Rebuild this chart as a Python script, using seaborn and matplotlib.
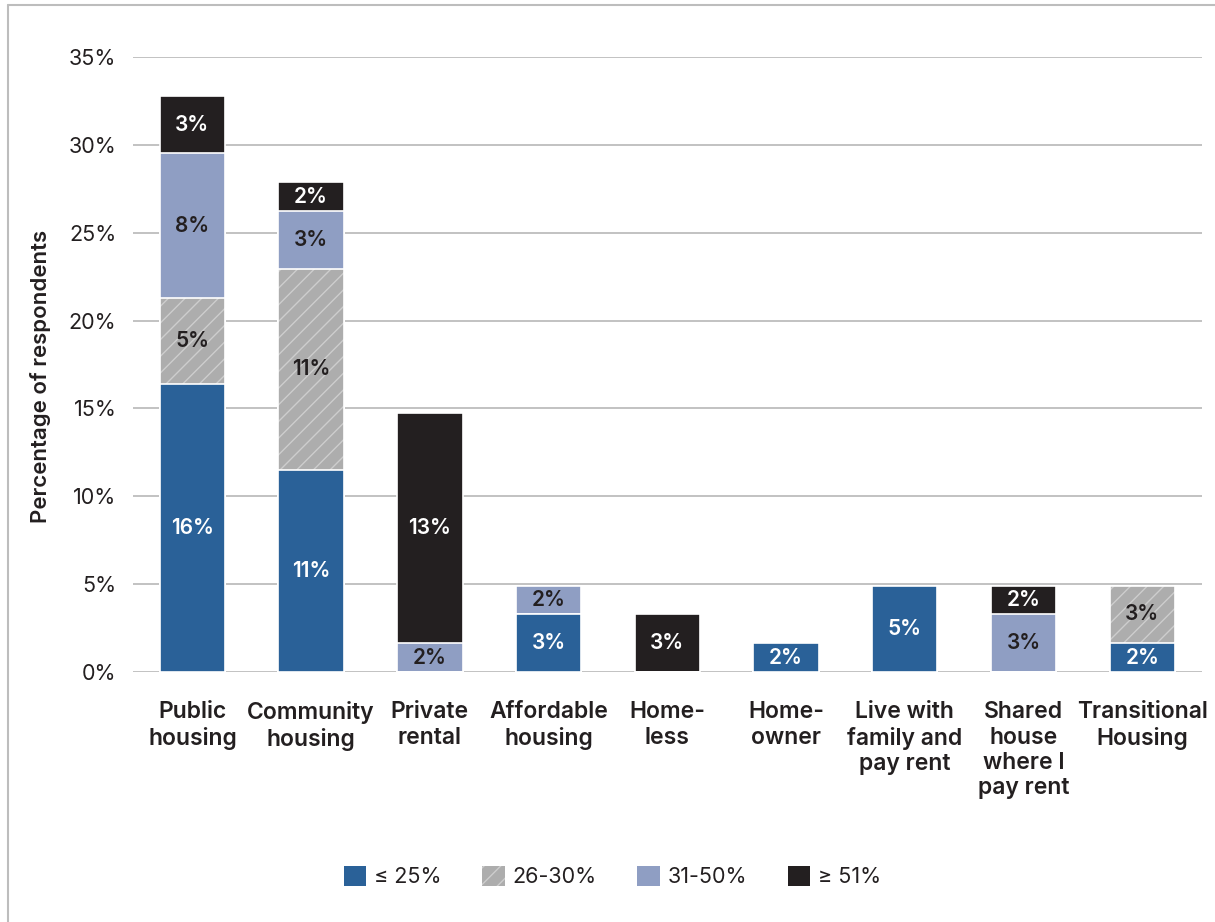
import matplotlib
matplotlib.use("Agg")
import matplotlib.pyplot as plt
from matplotlib.colors import to_rgba
from matplotlib.patches import Patch
from matplotlib.lines import Line2D
import seaborn as sns
import pandas as pd
import numpy as np

# Housing type by share of income spent on rent (% of respondents)
categories = ["Public\nhousing", "Community\nhousing", "Private\nrental", "Affordable\nhousing",
              "Home-\nless", "Home-\nowner", "Live with\nfamily and\npay rent",
              "Shared\nhouse\nwhere I\npay rent", "Transitional\nHousing"]
le_25 = [16.39, 11.48, 0.0, 3.28, 0.0, 1.64, 4.92, 0.0, 1.64]
p26_30 = [4.92, 11.48, 0.0, 0.0, 0.0, 0.0, 0.0, 0.0, 3.28]
p31_50 = [8.20, 3.28, 1.64, 1.64, 0.0, 0.0, 0.0, 3.28, 0.0]
ge_51 = [3.28, 1.64, 13.11, 0.0, 3.28, 0.0, 0.0, 1.64, 0.0]
series_names = ["≤ 25%", "26-30%", "31-50%", "≥ 51%"]

colors = ["#2A6198", "#ADADAD", "#8F9EC3", "#231F20"]
label_colors = ["white", "#231F20", "#231F20", "white"]
hatches = [None, "//", None, None]
text_color = "#231F20"

sns.set_theme(style="white")
plt.rcParams["font.family"] = ["Inter", "DejaVu Sans"]
plt.rcParams["hatch.linewidth"] = 1.0

layers = [le_25, p26_30, p31_50, ge_51]
cum = np.cumsum(np.array(layers), axis=0)

fig = plt.figure(figsize=(12.15, 9.22), dpi=100)
ax = fig.add_axes([0.1095, 0.2711, 0.8795, 0.6671])

# stacked bars: draw cumulative totals from the top layer down
for i in range(3, -1, -1):
    df = pd.DataFrame({"cat": categories, "val": cum[i]})
    n_before = len(ax.patches)
    sns.barplot(data=df, x="cat", y="val", color=colors[i], saturation=1,
                width=0.55, edgecolor="white", linewidth=1.2,
                hatch=hatches[i], ax=ax, zorder=3)
    if hatches[i]:
        for p in ax.patches[n_before:]:
            p._hatch_color = to_rgba("#CDCDCD")

# value labels in the middle of each segment
for i, layer in enumerate(layers):
    for j, v in enumerate(layer):
        if v <= 0:
            continue
        base = cum[i][j] - v
        ax.text(j, base + v / 2, f"{v:.0f}%", ha="center", va="center",
                color=label_colors[i], fontsize=15, fontweight="semibold", zorder=5)

ax.set_ylim(0, 35)
ax.set_xlim(-0.5, len(categories) - 0.5)
ax.set_yticks(np.arange(0, 36, 5))
ax.set_yticklabels([f"{t}%" for t in range(0, 36, 5)], fontsize=15.5, color=text_color)
ax.yaxis.grid(True, color="#BDBDBD", linewidth=1.3, zorder=0)
ax.set_axisbelow(True)
for s in ax.spines.values():
    s.set_visible(False)
ax.tick_params(axis="y", length=0, pad=12)
ax.tick_params(axis="x", length=0, pad=21)
ax.set_xticks(range(len(categories)))
ax.set_xticklabels(categories, fontsize=16.5, fontweight="semibold", color=text_color,
                   linespacing=1.2, va="top")
ax.set_xlabel("")
ax.set_ylabel("Percentage of respondents", fontsize=16, fontweight="semibold",
              color=text_color)
ax.yaxis.set_label_coords(-0.077, 0.48)

handles = [Patch(facecolor=colors[k], edgecolor="white" if k != 1 else "#CDCDCD",
                 hatch=hatches[k], linewidth=0) for k in range(4)]
fig.legend(handles, series_names, loc="center", bbox_to_anchor=(0.504, 0.049),
           ncol=4, frameon=False, fontsize=15.5, handlelength=1.05, handleheight=1.05,
           handletextpad=0.35, columnspacing=1.9, labelcolor=text_color)

# outer frame lines on left and top
fig.add_artist(Line2D([0.0062, 0.0062], [0, 0.9946], color="#BDBDBD", lw=1.5,
                      transform=fig.transFigure))
fig.add_artist(Line2D([0.0062, 1.0], [0.9946, 0.9946], color="#BDBDBD", lw=1.5,
                      transform=fig.transFigure))

fig.savefig("out.png", dpi=100)
